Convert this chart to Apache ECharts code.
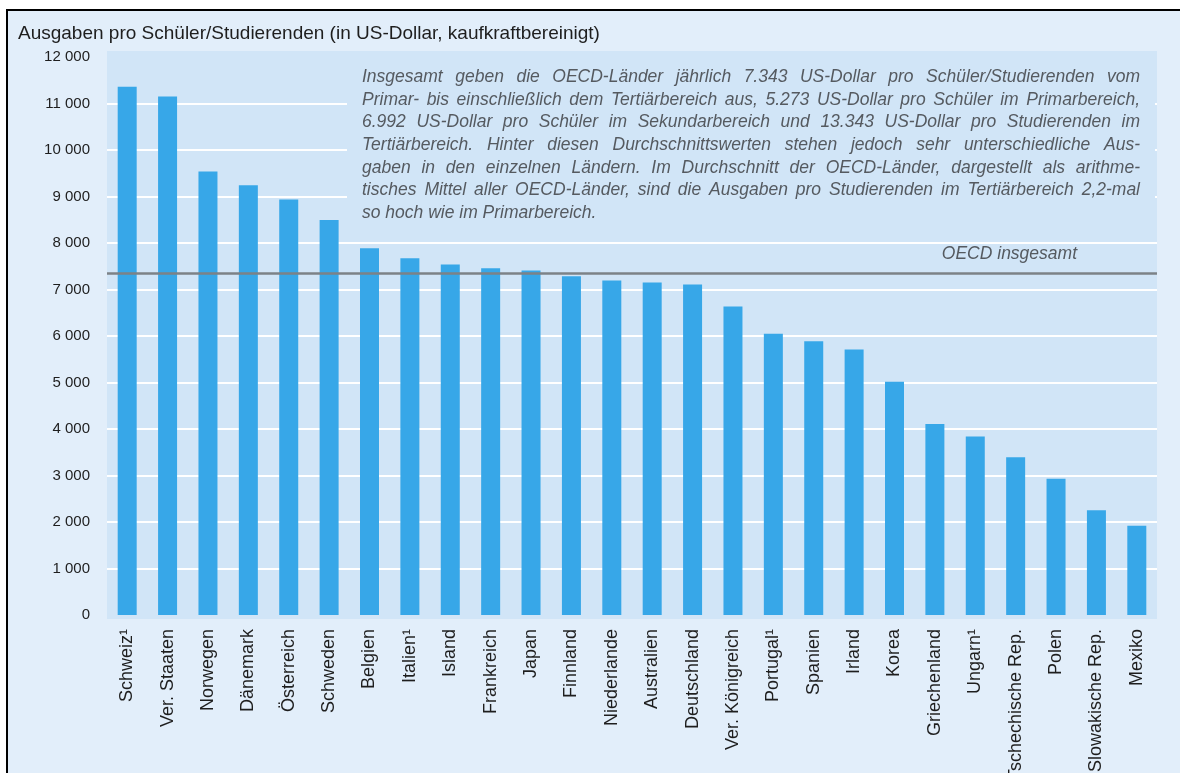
<!DOCTYPE html>
<html>
<head>
<meta charset="utf-8">
<script src="https://cdn.jsdelivr.net/npm/echarts@6/dist/echarts.min.js"></script>
<style>
html,body{margin:0;padding:0;background:#fff;}
#chart{width:1180px;height:773px;}
</style>
</head>
<body>
<div id="chart"></div>
<script>
const titleText = 'Ausgaben pro Schüler/Studierenden (in US-Dollar, kaufkraftbereinigt)';
const categories = ['Schweiz¹','Ver. Staaten','Norwegen','Dänemark','Österreich','Schweden','Belgien','Italien¹','Island','Frankreich','Japan','Finnland','Niederlande','Australien','Deutschland','Ver. Königreich','Portugal¹','Spanien','Irland','Korea','Griechenland','Ungarn¹','Tschechische Rep.','Polen','Slowakische Rep.','Mexiko'];
const values = [11360, 11150, 9540, 9240, 8935, 8495, 7885, 7670, 7540, 7455, 7410, 7285, 7195, 7150, 7110, 6635, 6050, 5885, 5710, 5015, 4110, 3840, 3395, 2930, 2255, 1920];
const oecdAverage = 7343;
const oecdLabel = 'OECD insgesamt';
const annotationLines = [
  'Insgesamt geben die OECD-Länder jährlich 7.343 US-Dollar pro Schüler/Studierenden vom',
  'Primar- bis einschließlich dem Tertiärbereich aus, 5.273 US-Dollar pro Schüler im Primarbereich,',
  '6.992 US-Dollar pro Schüler im Sekundarbereich und 13.343 US-Dollar pro Studierenden im',
  'Tertiärbereich. Hinter diesen Durchschnittswerten stehen jedoch sehr unterschiedliche Aus-',
  'gaben in den einzelnen Ländern. Im Durchschnitt der OECD-Länder, dargestellt als arithme-',
  'tisches Mittel aller OECD-Länder, sind die Ausgaben pro Studierenden im Tertiärbereich 2,2-mal',
  'so hoch wie im Primarbereich.'
];

const outerBg = '#e2eefa';
const plotBg = '#d1e5f7';
const barColor = '#37a7e8';
const textColor = '#1e1e1e';
const noteColor = '#555a60';
const noteFont = 'italic 17.5px "Liberation Sans", Arial, sans-serif';

function fmt(v){ return String(v).replace(/\B(?=(\d{3})+(?!\d))/g, ' '); }

const chart = echarts.init(document.getElementById('chart'), null, {renderer:'canvas'});

const option = {
  backgroundColor: '#ffffff',
  animation: false,
  title: {
    text: titleText,
    left: 13, top: 19,
    textStyle: {fontFamily: '"Liberation Sans", Arial, sans-serif', fontSize: 19, fontWeight: 'normal', color: textColor}
  },
  grid: {left: 107, right: 23, top: 57, bottom: 158, containLabel: false, outerBoundsMode: 'none'},
  xAxis: {
    type: 'category',
    data: categories,
    axisLine: {show: false},
    axisTick: {show: false},
    axisLabel: {
      rotate: 90, margin: 14, interval: 0,
      fontFamily: '"Liberation Sans", Arial, sans-serif', fontSize: 18, color: textColor
    }
  },
  yAxis: {
    type: 'value', min: 0, max: 12000, interval: 1000,
    axisLine: {show: false},
    axisTick: {show: false},
    axisLabel: {
      margin: 17, formatter: fmt,
      fontFamily: '"Liberation Sans", Arial, sans-serif', fontSize: 15, color: textColor
    },
    splitLine: {show: true, showMinLine: false, showMaxLine: false, lineStyle: {color: '#ffffff', width: 2}}
  },
  series: [{
    type: 'bar',
    data: values,
    barWidth: 19,
    itemStyle: {color: barColor},
    silent: true,
    z: 3,
    markLine: {
      silent: true,
      symbol: ['none', 'none'],
      lineStyle: {color: '#7c8287', width: 2.5, type: 'solid'},
      label: {show: false},
      data: [{yAxis: oecdAverage}]
    }
  }],
  graphic: []
};

chart.setOption(option);

// Build justified annotation text and static frame
const ctx = document.createElement('canvas').getContext('2d');
ctx.font = noteFont;
const textLeft = 362, textRight = 1140, firstY = 77, pitch = 22.7;
const gfx = [
  {type: 'rect', z: -20, silent: true, shape: {x: 7, y: 10, width: 1200, height: 800},
   style: {fill: outerBg, stroke: '#000', lineWidth: 2}},
  {type: 'rect', z: -15, silent: true, shape: {x: 107, y: 51, width: 1050, height: 568}, style: {fill: plotBg}},
  {type: 'rect', z: 1, silent: true, shape: {x: 347, y: 56, width: 808, height: 176}, style: {fill: plotBg}}
];
annotationLines.forEach((line, i) => {
  const y = firstY + i * pitch;
  const words = line.split(' ');
  const widths = words.map(w => ctx.measureText(w).width);
  const total = widths.reduce((a, b) => a + b, 0);
  const isLast = i === annotationLines.length - 1;
  const space = ctx.measureText(' ').width;
  let gap = (!isLast && words.length > 1) ? (textRight - textLeft - total) / (words.length - 1) : space;
  if (gap < space * 0.6) gap = space * 0.6;
  let x = textLeft;
  words.forEach((w, k) => {
    gfx.push({type: 'text', z: 5, silent: true, x: x, y: y,
      style: {text: w, font: noteFont, fill: noteColor, textAlign: 'left', textVerticalAlign: 'middle'}});
    x += widths[k] + gap;
  });
});
const lineY = chart.convertToPixel({yAxisIndex: 0}, oecdAverage);
gfx.push({type: 'text', z: 5, silent: true, x: 1077, y: lineY - 19,
  style: {text: oecdLabel, font: noteFont, fill: noteColor, textAlign: 'right', textVerticalAlign: 'middle'}});

chart.setOption({graphic: gfx});
</script>
</body>
</html>
